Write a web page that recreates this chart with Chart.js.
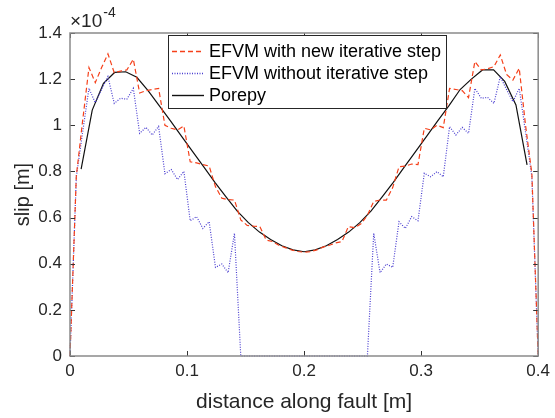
<!DOCTYPE html>
<html>
<head>
<meta charset="utf-8">
<script src="https://cdn.jsdelivr.net/npm/chart.js@4.4.0/dist/chart.umd.min.js"></script>
<style>
  html, body { margin: 0; padding: 0; background: #fff; }
  #wrap { width: 555px; height: 418px; }
</style>
</head>
<body>
<div id="wrap"><canvas id="slipChart" width="555" height="418"></canvas></div>
<script>
// slip values are in units of 1e-4 m (axis shows x10^-4)
const efvmX = [0, 0.0054, 0.0108, 0.0162, 0.0216, 0.0270, 0.0324, 0.0378, 0.0432, 0.0486,
  0.0541, 0.0595, 0.0649, 0.0703, 0.0757, 0.0811, 0.0865, 0.0919, 0.0973, 0.1027,
  0.1081, 0.1135, 0.1189, 0.1243, 0.1297, 0.1351, 0.1405, 0.1459, 0.1514, 0.1568,
  0.1622, 0.1676, 0.1730, 0.1784, 0.1838, 0.1892, 0.1946, 0.2000, 0.2054, 0.2108,
  0.2162, 0.2216, 0.2270, 0.2324, 0.2378, 0.2432, 0.2486, 0.2541, 0.2595, 0.2649,
  0.2703, 0.2757, 0.2811, 0.2865, 0.2919, 0.2973, 0.3027, 0.3081, 0.3135, 0.3189,
  0.3243, 0.3297, 0.3351, 0.3405, 0.3459, 0.3514, 0.3568, 0.3622, 0.3676, 0.3730,
  0.3784, 0.3838, 0.3892, 0.3946, 0.4000];

const efvmNew = [0, 0.78, 1.02, 1.25, 1.185, 1.25, 1.31, 1.228, 1.235, 1.24,
  1.286, 1.14, 1.15, 1.155, 1.16, 1.0, 0.987, 0.98, 0.997, 0.842,
  0.837, 0.83, 0.823, 0.734, 0.684, 0.678, 0.676, 0.59, 0.566, 0.563,
  0.561, 0.503, 0.496, 0.48, 0.47, 0.46, 0.453, 0.45, 0.452, 0.46,
  0.472, 0.48, 0.49, 0.496, 0.561, 0.556, 0.573, 0.61, 0.67, 0.676,
  0.676, 0.73, 0.82, 0.823, 0.832, 0.83, 0.987, 0.98, 1.0, 0.99,
  1.16, 1.155, 1.15, 1.12, 1.276, 1.24, 1.245, 1.254, 1.305, 1.22,
  1.196, 1.247, 1.0, 0.79, 0];

const efvmOld = [0, 0.777, 0.97, 1.16, 1.098, 1.155, 1.211, 1.095, 1.117, 1.113,
  1.16, 0.965, 0.991, 0.958, 0.995, 0.79, 0.808, 0.765, 0.80, 0.586,
  0.604, 0.553, 0.582, 0.384, 0.399, 0.361, 0.532, 0, 0, 0,
  0, 0, 0, 0, 0, 0, 0, 0, 0, 0,
  0, 0, 0, 0, 0, 0, 0, 0, 0.532, 0.361,
  0.399, 0.384, 0.582, 0.553, 0.604, 0.586, 0.792, 0.777, 0.799, 0.777,
  0.994, 0.958, 0.991, 0.965, 1.16, 1.117, 1.121, 1.095, 1.211, 1.155,
  1.102, 1.16, 0.97, 0.777, 0];

const porepyX = [0.0095, 0.0190, 0.0286, 0.0381, 0.0476, 0.0571, 0.0667, 0.0762, 0.0857, 0.0952,
  0.1048, 0.1143, 0.1238, 0.1333, 0.1429, 0.1524, 0.1619, 0.1714, 0.1810, 0.1905,
  0.2000, 0.2095, 0.2190, 0.2286, 0.2381, 0.2476, 0.2571, 0.2667, 0.2762, 0.2857,
  0.2952, 0.3048, 0.3143, 0.3238, 0.3333, 0.3429, 0.3524, 0.3619, 0.3714, 0.3810, 0.3905];

const porepy = [0.81, 1.066, 1.182, 1.229, 1.232, 1.208, 1.15, 1.085, 1.02, 0.953,
  0.886, 0.82, 0.753, 0.69, 0.628, 0.578, 0.537, 0.505, 0.478, 0.46,
  0.452, 0.46, 0.478, 0.505, 0.537, 0.578, 0.628, 0.69, 0.753, 0.82,
  0.886, 0.953, 1.02, 1.085, 1.155, 1.2, 1.24, 1.24, 1.19, 1.088, 0.828];

const seriesNames = ["EFVM with new iterative step", "EFVM without iterative step", "Porepy"];
const xTicks = [0, 0.1, 0.2, 0.3, 0.4];
const yTicks = [0, 0.2, 0.4, 0.6, 0.8, 1, 1.2, 1.4];

const FONT = "'Liberation Sans', Arial, Helvetica, sans-serif";

const toPoints = (xs, ys) => xs.map((x, i) => ({ x: x, y: ys[i] }));

// frame, inward ticks, exponent label and legend, drawn matlab-style
const matlabAxes = {
  id: "matlabAxes",
  afterDraw(chart) {
    const ctx = chart.ctx;
    const a = chart.chartArea;
    const xs = chart.scales.x, ys = chart.scales.y;
    ctx.save();

    // inward ticks on all four sides
    ctx.strokeStyle = "#333";
    ctx.lineWidth = 1;
    ctx.beginPath();
    xs.ticks.forEach(t => {
      const px = Math.round(xs.getPixelForValue(t.value)) + 0.5;
      ctx.moveTo(px, a.bottom); ctx.lineTo(px, a.bottom - 5);
      ctx.moveTo(px, a.top); ctx.lineTo(px, a.top + 5);
    });
    ys.ticks.forEach(t => {
      const py = Math.round(ys.getPixelForValue(t.value)) + 0.5;
      ctx.moveTo(a.left, py); ctx.lineTo(a.left + 5, py);
      ctx.moveTo(a.right, py); ctx.lineTo(a.right - 5, py);
    });
    ctx.stroke();

    // box
    ctx.strokeStyle = "#8a8a8a";
    ctx.lineWidth = 1.5;
    ctx.strokeRect(a.left, a.top, a.right - a.left, a.bottom - a.top);

    // x10^-4
    ctx.fillStyle = "#262626";
    ctx.textBaseline = "alphabetic";
    ctx.textAlign = "left";
    ctx.font = "19px " + FONT;
    ctx.fillText("\u00d710", 70, 27);
    const w = ctx.measureText("\u00d710").width;
    ctx.font = "14px " + FONT;
    ctx.fillText("-4", 70 + w + 1, 17);

    // legend
    const lx = 168, ly = 35, lw = 278, lh = 73;
    ctx.fillStyle = "#fff";
    ctx.fillRect(lx, ly, lw, lh);
    ctx.strokeStyle = "#262626";
    ctx.lineWidth = 1;
    ctx.strokeRect(lx + 0.5, ly + 0.5, lw, lh);
    const rows = [51, 73, 95];
    chart.data.datasets.forEach((ds, i) => {
      const y = rows[i] + 0.5;
      ctx.save();
      ctx.strokeStyle = ds.borderColor;
      ctx.lineWidth = 1.4;
      ctx.setLineDash(ds.borderDash || []);
      ctx.beginPath();
      ctx.moveTo(172, y); ctx.lineTo(204, y);
      ctx.stroke();
      ctx.restore();
      ctx.fillStyle = "#000";
      ctx.font = "18px " + FONT;
      ctx.textBaseline = "middle";
      ctx.fillText(ds.label, 209, rows[i] + 1);
    });
    ctx.restore();
  }
};

const ctx = document.getElementById("slipChart").getContext("2d");
const slipChart = new Chart(ctx, {
  type: "line",
  data: {
    datasets: [
      {
        label: seriesNames[0],
        data: toPoints(efvmX, efvmNew),
        borderColor: "#f5401a",
        borderWidth: 1.2,
        borderDash: [5, 3],
        pointRadius: 0,
        tension: 0,
        clip: 3
      },
      {
        label: seriesNames[1],
        data: toPoints(efvmX, efvmOld),
        borderColor: "#4a3ed0",
        borderWidth: 1.2,
        borderDash: [1, 1.5],
        pointRadius: 0,
        tension: 0,
        clip: 3
      },
      {
        label: seriesNames[2],
        data: toPoints(porepyX, porepy),
        borderColor: "#111",
        borderWidth: 1.2,
        pointRadius: 0,
        tension: 0,
        clip: 3
      }
    ]
  },
  options: {
    responsive: false,
    animation: false,
    layout: { padding: { left: 0, right: 13, top: 33, bottom: 0 } },
    plugins: {
      legend: { display: false },
      tooltip: { enabled: false }
    },
    scales: {
      x: {
        type: "linear",
        min: 0,
        max: 0.4,
        afterBuildTicks: s => { s.ticks = xTicks.map(v => ({ value: v })); },
        afterFit: s => { s.height = 62; },
        grid: { display: false, drawTicks: false },
        border: { display: false },
        ticks: {
          color: "#262626",
          font: { family: FONT, size: 17 },
          padding: 5,
          maxRotation: 0,
          callback: v => String(+v.toFixed(1))
        },
        title: {
          display: true,
          text: "distance along fault [m]",
          color: "#262626",
          font: { family: FONT, size: 21 },
          padding: { top: 0, bottom: 3 }
        }
      },
      y: {
        type: "linear",
        min: 0,
        max: 1.4,
        afterBuildTicks: s => { s.ticks = yTicks.map(v => ({ value: v })); },
        afterFit: s => { s.width = 70; },
        grid: { display: false, drawTicks: false },
        border: { display: false },
        ticks: {
          color: "#262626",
          font: { family: FONT, size: 17 },
          padding: 8,
          callback: v => String(+v.toFixed(1))
        },
        title: {
          display: true,
          text: "slip [m]",
          color: "#262626",
          font: { family: FONT, size: 20 },
          padding: { top: 11, bottom: 0 }
        }
      }
    }
  },
  plugins: [matlabAxes]
});
</script>
</body>
</html>
